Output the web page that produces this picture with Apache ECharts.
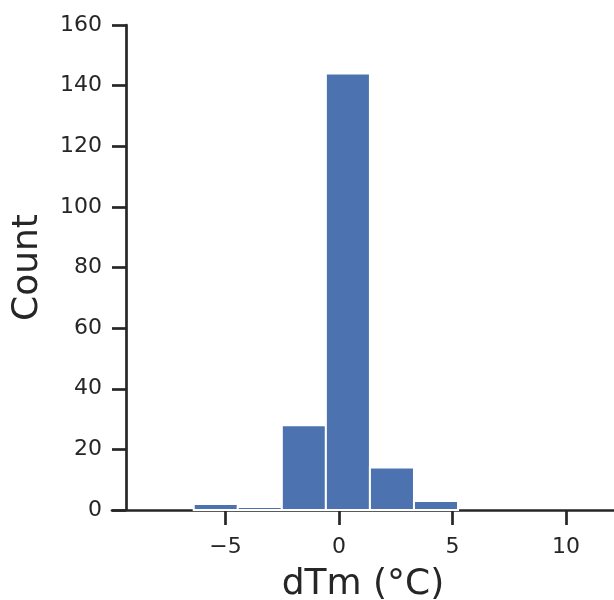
<!DOCTYPE html>
<html>
<head>
<meta charset="utf-8">
<script src="https://cdn.jsdelivr.net/npm/echarts@6/dist/echarts.min.js"></script>
<style>
html,body{margin:0;padding:0;background:#fff;}
#chart{width:614px;height:600px;}
</style>
</head>
<body>
<div id="chart"></div>
<script>
// Histogram data
const binEdges = [-6.40, -4.46, -2.52, -0.58, 1.36, 3.30, 5.24];
const counts = [2, 1, 28, 144, 14, 3];
const xTicks = [-5, 0, 5, 10];
const yTicks = [0, 20, 40, 60, 80, 100, 120, 140, 160];
const xTitle = 'dTm (°C)';
const yTitle = 'Count';

const ink = '#262626';
const font = 'DejaVu Sans';
const barData = counts.map((c, i) => [binEdges[i], binEdges[i + 1], c]);

const chart = echarts.init(document.getElementById('chart'), null, {renderer: 'canvas'});
chart.setOption({
  animation: false,
  backgroundColor: '#fff',
  grid: {left: 112, right: 0, top: 25, bottom: 90, containLabel: false, outerBoundsMode: 'none'},
  xAxis: {
    type: 'value',
    min: -10,
    max: 12.11,
    interval: 5,
    name: xTitle,
    nameLocation: 'middle',
    nameGap: 57,
    nameTextStyle: {fontFamily: font, fontSize: 36, color: ink},
    axisLine: {show: true, onZero: false, lineStyle: {color: ink, width: 2.7}},
    axisTick: {show: true, length: 15, customValues: xTicks, lineStyle: {color: ink, width: 2.7}},
    axisLabel: {
      customValues: xTicks,
      margin: 26,
      fontFamily: font, fontSize: 22, color: ink,
      formatter: v => (v < 0 ? '\u2212' + Math.abs(v) : String(v))
    },
    splitLine: {show: false}
  },
  yAxis: {
    type: 'value',
    min: 0,
    max: 160,
    interval: 20,
    offset: -14,
    name: yTitle,
    nameLocation: 'middle',
    nameGap: 80,
    nameRotate: 90,
    nameTextStyle: {fontFamily: font, fontSize: 36, color: ink},
    axisLine: {show: true, onZero: false, lineStyle: {color: ink, width: 2.7}},
    axisTick: {show: true, length: 14, lineStyle: {color: ink, width: 2.7}},
    axisLabel: {margin: 24, fontFamily: font, fontSize: 22, color: ink},
    splitLine: {show: false}
  },
  series: [{
    type: 'custom',
    data: barData,
    encode: {x: [0, 1], y: 2},
    renderItem: function (params, api) {
      const p0 = api.coord([api.value(0), api.value(2)]);
      const p1 = api.coord([api.value(1), 0]);
      return {
        type: 'rect',
        shape: {x: p0[0], y: p0[1], width: p1[0] - p0[0], height: p1[1] - p0[1]},
        style: {fill: '#4c72b0', stroke: '#ffffff', lineWidth: 2}
      };
    }
  }]
});
</script>
</body>
</html>
